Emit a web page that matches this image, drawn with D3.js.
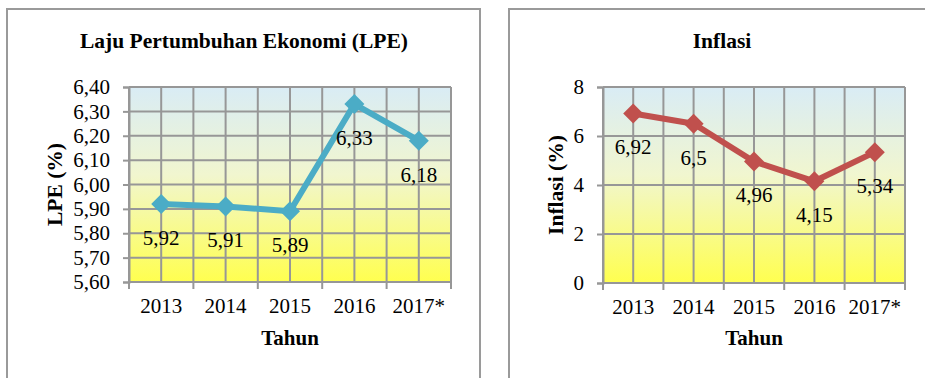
<!DOCTYPE html>
<html>
<head>
<meta charset="utf-8">
<script src="https://cdn.jsdelivr.net/npm/d3@7"></script>
<style>
  html, body { margin: 0; padding: 0; background: #fff; }
  svg { display: block; }
  text { font-family: "Liberation Serif", "Times New Roman", serif; fill: #000; }
</style>
</head>
<body>
<svg id="chart" width="925" height="378" font-family="Liberation Serif, serif"></svg>
<script>
// Years on the horizontal axis (2017 is provisional)
const years = ["2013", "2014", "2015", "2016", "2017*"];

// Economic growth rate (LPE), percent
const lpeValues = [5.92, 5.91, 5.89, 6.33, 6.18];
const lpeTicks = [5.6, 5.7, 5.8, 5.9, 6.0, 6.1, 6.2, 6.3, 6.4];

// Inflation, percent
const inflasiValues = [6.92, 6.5, 4.96, 4.15, 5.34];
const inflasiTicks = [0, 2, 4, 6, 8];

const svg = d3.select("#chart");

// Plot-area background: light blue at the top fading to bright yellow
const defs = svg.append("defs");
const grad = defs.append("linearGradient")
  .attr("id", "plotFill").attr("x1", 0).attr("y1", 0).attr("x2", 0).attr("y2", 1);
grad.append("stop").attr("offset", "0%").attr("stop-color", "#d9ecf5");
grad.append("stop").attr("offset", "45%").attr("stop-color", "#f1f6cf");
grad.append("stop").attr("offset", "100%").attr("stop-color", "#ffff4f");

const comma = s => s.replace(".", ",");
const SERIF = "Liberation Serif, Times New Roman, serif";

function drawPanel(cfg) {
  const g = svg.append("g");

  // Panel frame
  g.append("rect")
    .attr("x", cfg.frame[0]).attr("y", cfg.frame[1])
    .attr("width", cfg.frame[2]).attr("height", cfg.frame[3])
    .attr("fill", "#fff").attr("stroke", "#9a9a9a").attr("stroke-width", 2);

  const x = d3.scaleBand().domain(years).range([cfg.left, cfg.right]).padding(0);
  const y = d3.scaleLinear().domain(cfg.domain).range([cfg.bottom, cfg.top]);

  g.append("rect")
    .attr("x", cfg.left).attr("y", cfg.top)
    .attr("width", cfg.right - cfg.left).attr("height", cfg.bottom - cfg.top)
    .attr("fill", "url(#plotFill)");

  const grid = g.append("g").attr("stroke", "#979797").attr("stroke-width", 2);

  // Horizontal gridlines at each y tick
  grid.selectAll(".hg").data(cfg.ticks).join("line")
    .attr("x1", cfg.left).attr("x2", cfg.right)
    .attr("y1", d => y(d)).attr("y2", d => y(d));

  // Vertical gridlines at category edges and centres
  const vx = [];
  years.forEach(c => { vx.push(x(c)); vx.push(x(c) + x.bandwidth() / 2); });
  vx.push(cfg.right);
  grid.selectAll(".vg").data(vx).join("line")
    .attr("x1", d => d).attr("x2", d => d)
    .attr("y1", cfg.top).attr("y2", cfg.bottom);

  // Y axis
  const yAxis = g.append("g")
    .attr("transform", `translate(${cfg.left},0)`)
    .call(d3.axisLeft(y).tickValues(cfg.ticks).tickSize(6).tickPadding(13).tickFormat(cfg.tickFormat))
    .attr("font-family", SERIF);
  yAxis.select(".domain").attr("stroke", "#979797").attr("stroke-width", 2);
  yAxis.selectAll(".tick line").attr("stroke", "#979797").attr("stroke-width", 2);
  yAxis.selectAll(".tick text").style("font-size", "21px").style("font-family", SERIF).attr("fill", "#000");

  // X axis: ticks at the category boundaries, labels centred in each band
  const xAxis = g.append("g").attr("transform", `translate(0,${cfg.bottom})`);
  xAxis.append("line").attr("x1", cfg.left).attr("x2", cfg.right)
    .attr("stroke", "#979797").attr("stroke-width", 2);
  const edges = years.map(c => x(c)).concat([cfg.right]);
  xAxis.selectAll(".xt").data(edges).join("line")
    .attr("x1", d => d).attr("x2", d => d).attr("y1", 0).attr("y2", 7)
    .attr("stroke", "#979797").attr("stroke-width", 2);
  xAxis.selectAll(".xl").data(years).join("text")
    .attr("x", d => x(d) + x.bandwidth() / 2).attr("y", 31)
    .attr("text-anchor", "middle").style("font-size", "21px").style("font-family", SERIF)
    .text(d => d);

  // Series line and diamond markers
  const pts = years.map((c, i) => [x(c) + x.bandwidth() / 2, y(cfg.values[i]), cfg.values[i]]);
  g.append("path")
    .attr("d", d3.line()(pts.map(p => [p[0], p[1]])))
    .attr("fill", "none").attr("stroke", cfg.color).attr("stroke-width", 6)
    .attr("stroke-linejoin", "round");
  g.selectAll(".mk").data(pts).join("path")
    .attr("transform", p => `translate(${p[0]},${p[1]})`)
    .attr("d", "M0,-10 L10,0 L0,10 L-10,0 Z")
    .attr("fill", cfg.color);

  // Value labels below each point
  g.selectAll(".vl").data(pts).join("text")
    .attr("x", p => p[0]).attr("y", p => p[1] + 41)
    .attr("text-anchor", "middle").style("font-size", "21px").style("font-family", SERIF)
    .text(p => comma(String(p[2])));

  // Titles
  g.append("text").attr("x", cfg.titleX).attr("y", 48)
    .attr("text-anchor", "middle").style("font-size", "21.5px").style("font-weight", "bold")
    .style("font-family", SERIF)
    .text(cfg.title);
  g.append("text").attr("x", (cfg.left + cfg.right) / 2).attr("y", 345)
    .attr("text-anchor", "middle").style("font-size", "21px").style("font-weight", "bold")
    .style("font-family", SERIF)
    .text("Tahun");
  g.append("text")
    .attr("transform", `translate(${cfg.yTitleX},${(cfg.top + cfg.bottom) / 2}) rotate(-90)`)
    .attr("text-anchor", "middle").attr("dominant-baseline", "central")
    .style("font-size", "21.5px").style("font-weight", "bold").style("font-family", SERIF)
    .text(cfg.yTitle);
}

drawPanel({
  frame: [7, 9, 473, 400],
  left: 129, right: 451, top: 87, bottom: 282,
  domain: [5.6, 6.4], ticks: lpeTicks,
  tickFormat: d => comma(d3.format(".2f")(d)),
  values: lpeValues, color: "#4bacc6",
  title: "Laju Pertumbuhan Ekonomi (LPE)", titleX: 244,
  yTitle: "LPE (%)", yTitleX: 55
});

drawPanel({
  frame: [509, 9, 430, 400],
  left: 603, right: 905, top: 87, bottom: 283,
  domain: [0, 8], ticks: inflasiTicks,
  tickFormat: d => String(d),
  values: inflasiValues, color: "#c0504d",
  title: "Inflasi", titleX: 722,
  yTitle: "Inflasi (%)", yTitleX: 556
});
</script>
</body>
</html>
